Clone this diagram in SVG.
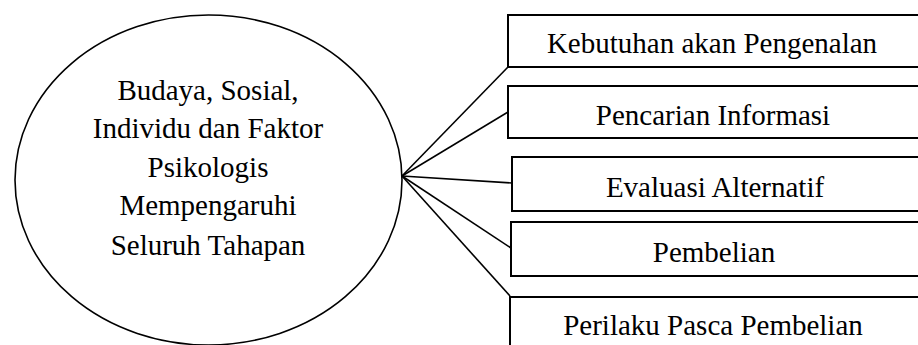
<svg xmlns="http://www.w3.org/2000/svg" width="918" height="345" viewBox="0 0 918 345">
<style>
text{font-family:"Liberation Serif","Times New Roman",serif;font-size:29px;fill:#000;text-anchor:middle}
.box{fill:#fff;stroke:#000;stroke-width:2}
.ell{fill:#fff;stroke:#000;stroke-width:1.6}
.conn line{stroke:#000;stroke-width:1.6}
</style>
<rect width="918" height="345" fill="#fff"/>
<g id="factors">
<ellipse class="ell" cx="208.5" cy="180" rx="193.5" ry="165"/>
<text x="208" y="100">Budaya, Sosial,</text>
<text x="208" y="138">Individu dan Faktor</text>
<text x="208" y="177">Psikologis</text>
<text x="208" y="215">Mempengaruhi</text>
<text x="208" y="255">Seluruh Tahapan</text>
</g>
<g id="stage1">
<rect class="box" x="508" y="15" width="430" height="52"/>
<text x="712" y="53">Kebutuhan akan Pengenalan</text>
</g>
<g id="stage2">
<rect class="box" x="508" y="86" width="430" height="52"/>
<text x="713" y="125">Pencarian Informasi</text>
</g>
<g id="stage3">
<rect class="box" x="512" y="157" width="430" height="54"/>
<text x="715" y="197">Evaluasi Alternatif</text>
</g>
<g id="stage4">
<rect class="box" x="511" y="222" width="430" height="54"/>
<text x="714" y="262">Pembelian</text>
</g>
<g id="stage5">
<rect class="box" x="510" y="297" width="430" height="60"/>
<text x="713" y="335">Perilaku Pasca Pembelian</text>
</g>
<g class="conn" id="connectors">
<line x1="402" y1="176" x2="508" y2="67"/>
<line x1="402" y1="176" x2="508" y2="112"/>
<line x1="402" y1="176" x2="512" y2="183"/>
<line x1="402" y1="176" x2="511" y2="248"/>
<line x1="402" y1="176" x2="510" y2="296"/>
</g>
</svg>
